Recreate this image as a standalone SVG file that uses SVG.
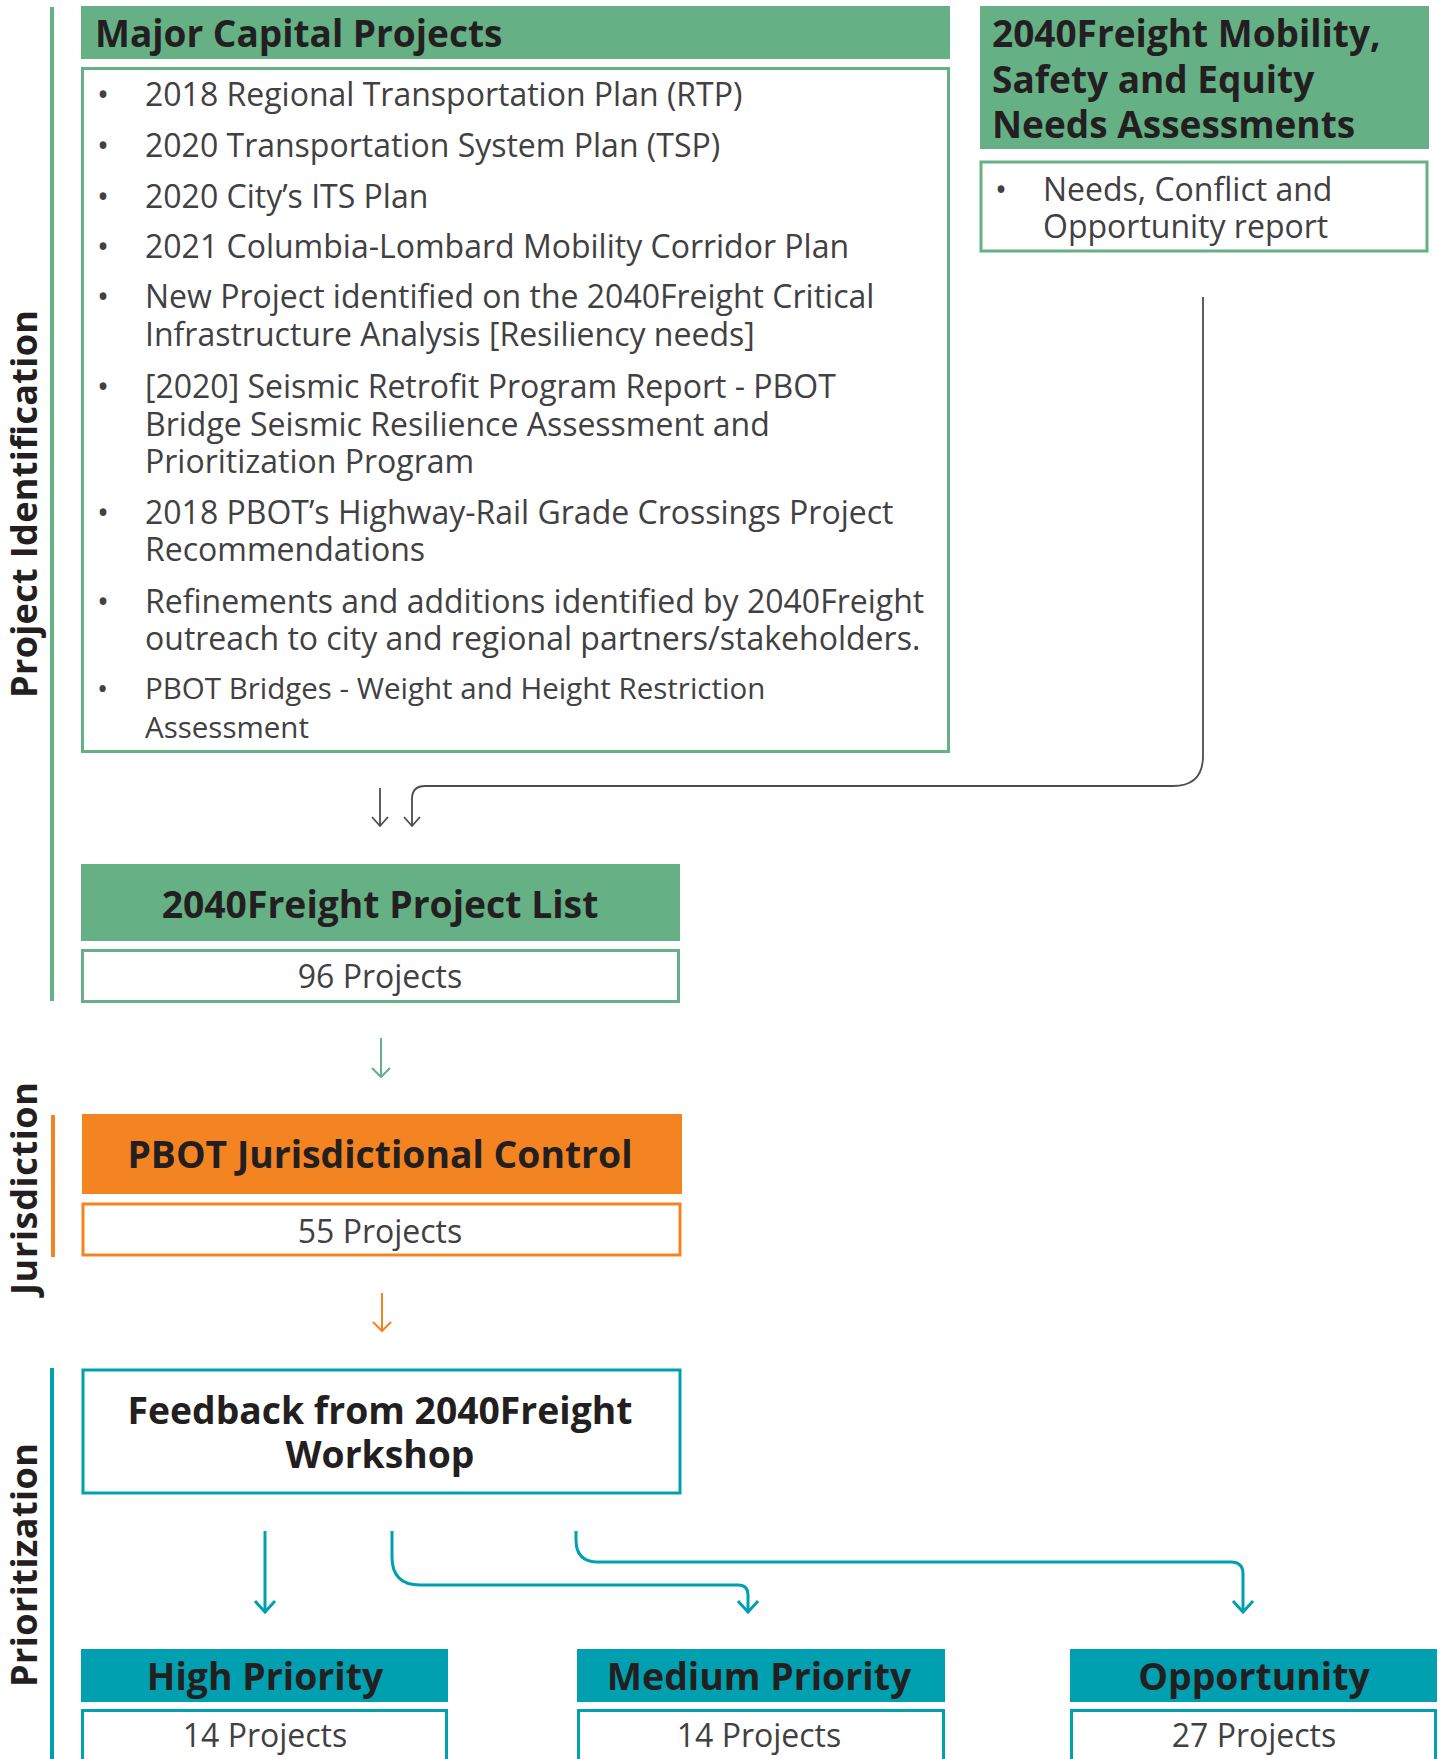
<svg xmlns="http://www.w3.org/2000/svg" width="1440" height="1759" viewBox="0 0 1440 1759">
<style>
.hd{font-family:"Open Sans","Liberation Sans",sans-serif;font-weight:700;fill:#231F20}
.bd{font-family:"Open Sans","Liberation Sans",sans-serif;font-weight:400;fill:#414042}
.side{font-family:"Open Sans","Liberation Sans",sans-serif;font-weight:700;fill:#231F20;font-size:36px}
.gfill{fill:#66B086}
.ofill{fill:#F38421}
.tfill{fill:#00A0B0}
.gbox{fill:#fff;stroke:#66B086;stroke-width:3}
.obox{fill:#fff;stroke:#F38421;stroke-width:3}
.tbox{fill:#fff;stroke:#00A0B0;stroke-width:3}
.c-gray{fill:none;stroke:#4D4D4D;stroke-width:1.8}
.c-green{fill:none;stroke:#66B086;stroke-width:2}
.c-orange{fill:none;stroke:#F38421;stroke-width:2}
.c-teal{fill:none;stroke:#00A0B0;stroke-width:3}
</style>
<defs>
<marker id="ah-gray" viewBox="0 0 20 20" refX="12" refY="10" markerWidth="20" markerHeight="20" markerUnits="userSpaceOnUse" orient="auto"><path d="M3,2 L12,10 L3,18" fill="none" stroke="#4D4D4D" stroke-width="1.8"/></marker>
<marker id="ah-green" viewBox="0 0 20 20" refX="12" refY="10" markerWidth="20" markerHeight="20" markerUnits="userSpaceOnUse" orient="auto"><path d="M3,1 L12,10 L3,19" fill="none" stroke="#66B086" stroke-width="2"/></marker>
<marker id="ah-orange" viewBox="0 0 20 20" refX="12" refY="10" markerWidth="20" markerHeight="20" markerUnits="userSpaceOnUse" orient="auto"><path d="M3,1 L12,10 L3,19" fill="none" stroke="#F38421" stroke-width="2"/></marker>
<marker id="ah-teal" viewBox="0 0 24 24" refX="14" refY="12" markerWidth="24" markerHeight="24" markerUnits="userSpaceOnUse" orient="auto"><path d="M3,2 L14,12 L3,22" fill="none" stroke="#00A0B0" stroke-width="3"/></marker>
</defs>
<rect width="1440" height="1759" fill="#fff"/>

<g id="section-labels">
<rect x="50" y="7" width="4" height="994" class="gfill"/>
<text class="side" transform="translate(37,698) rotate(-90)" textLength="388" lengthAdjust="spacing">Project Identification</text>
<rect x="51" y="1115" width="4" height="142" class="ofill"/>
<text class="side" transform="translate(37,1295) rotate(-90)" textLength="213" lengthAdjust="spacing">Jurisdiction</text>
<rect x="50" y="1368" width="4" height="391" class="tfill"/>
<text class="side" transform="translate(37,1687) rotate(-90)" textLength="244" lengthAdjust="spacing">Prioritization</text>
</g>

<g id="major-capital-projects">
<rect x="81" y="6" width="869" height="53" class="gfill"/>
<text class="hd" x="95" y="47" font-size="37">Major Capital Projects</text>
<rect x="82.5" y="68.5" width="866" height="683" class="gbox" stroke-width="2.5"/>
<g class="bd" font-size="32">
<text x="97" y="106">•</text><text x="145" y="106">2018 Regional Transportation Plan (RTP)</text>
<text x="97" y="157">•</text><text x="145" y="157">2020 Transportation System Plan (TSP)</text>
<text x="97" y="208">•</text><text x="145" y="208">2020 City’s ITS Plan</text>
<text x="97" y="258">•</text><text x="145" y="258">2021 Columbia-Lombard Mobility Corridor Plan</text>
<text x="97" y="308">•</text><text x="145" y="308">New Project identified on the 2040Freight Critical</text>
<text x="145" y="346">Infrastructure Analysis [Resiliency needs]</text>
<text x="97" y="398">•</text><text x="145" y="398">[2020] Seismic Retrofit Program Report - PBOT</text>
<text x="145" y="436">Bridge Seismic Resilience Assessment and</text>
<text x="145" y="473">Prioritization Program</text>
<text x="97" y="524">•</text><text x="145" y="524">2018 PBOT’s Highway-Rail Grade Crossings Project</text>
<text x="145" y="561">Recommendations</text>
<text x="97" y="613">•</text><text x="145" y="613">Refinements and additions identified by 2040Freight</text>
<text x="145" y="650">outreach to city and regional partners/stakeholders.</text>
</g>
<g class="bd" font-size="29.5">
<text x="97" y="699">•</text><text x="145" y="699">PBOT Bridges - Weight and Height Restriction</text>
<text x="145" y="738">Assessment</text>
</g>
</g>

<g id="needs-assessments">
<rect x="980" y="6" width="449" height="143" class="gfill"/>
<text class="hd" font-size="37"><tspan x="992" y="47">2040Freight Mobility,</tspan><tspan x="992" y="93">Safety and Equity</tspan><tspan x="992" y="138">Needs Assessments</tspan></text>
<rect x="981" y="162" width="446" height="89" class="gbox" stroke-width="2.5"/>
<g class="bd" font-size="32">
<text x="995" y="201">•</text>
<text x="1043" y="201">Needs, Conflict and</text>
<text x="1043" y="238">Opportunity report</text>
</g>
</g>

<g id="project-list">
<rect x="81" y="864" width="599" height="77" class="gfill"/>
<text class="hd" x="380" y="918" font-size="37.3" text-anchor="middle">2040Freight Project List</text>
<rect x="82.5" y="950.5" width="596" height="51" class="gbox"/>
<text class="bd" x="380" y="988" font-size="32" text-anchor="middle">96 Projects</text>
</g>

<g id="pbot-jurisdiction">
<rect x="82" y="1114" width="600" height="80" class="ofill"/>
<text class="hd" x="380" y="1168" font-size="37.3" text-anchor="middle">PBOT Jurisdictional Control</text>
<rect x="83" y="1204" width="597" height="51" class="obox"/>
<text class="bd" x="380" y="1243" font-size="32" text-anchor="middle">55 Projects</text>
</g>

<g id="workshop-feedback">
<rect x="83" y="1370" width="597" height="123" class="tbox"/>
<text class="hd" font-size="37.3" text-anchor="middle"><tspan x="380" y="1424">Feedback from 2040Freight</tspan><tspan x="380" y="1468">Workshop</tspan></text>
</g>

<g id="high-priority">
<rect x="81" y="1649" width="367" height="53" class="tfill"/>
<text class="hd" x="265" y="1690" font-size="37.4" text-anchor="middle">High Priority</text>
<rect x="82.5" y="1710.5" width="364" height="60" class="tbox"/>
<text class="bd" x="265" y="1747" font-size="32" text-anchor="middle">14 Projects</text>
</g>

<g id="medium-priority">
<rect x="577" y="1649" width="368" height="53" class="tfill"/>
<text class="hd" x="759" y="1690" font-size="37.4" text-anchor="middle">Medium Priority</text>
<rect x="578.5" y="1710.5" width="365" height="60" class="tbox"/>
<text class="bd" x="759" y="1747" font-size="32" text-anchor="middle">14 Projects</text>
</g>

<g id="opportunity">
<rect x="1070" y="1649" width="367" height="53" class="tfill"/>
<text class="hd" x="1254" y="1690" font-size="37.4" text-anchor="middle">Opportunity</text>
<rect x="1071.5" y="1710.5" width="364" height="60" class="tbox"/>
<text class="bd" x="1254" y="1747" font-size="32" text-anchor="middle">27 Projects</text>
</g>

<g id="connectors">
<path class="c-gray" d="M380,788 L380,826" marker-end="url(#ah-gray)"/>
<path class="c-gray" d="M1203,297 L1203,756 Q1203,786 1173,786 L425,786 Q412,786 412,799 L412,826" marker-end="url(#ah-gray)"/>
<path class="c-green" d="M381,1038 L381,1077" marker-end="url(#ah-green)"/>
<path class="c-orange" d="M382,1293 L382,1331" marker-end="url(#ah-orange)"/>
<path class="c-teal" d="M265,1531 L265,1612" marker-end="url(#ah-teal)"/>
<path class="c-teal" d="M392,1531 L392,1557 Q392,1585 420,1585 L738,1585 Q748,1585 748,1595 L748,1612" marker-end="url(#ah-teal)"/>
<path class="c-teal" d="M576,1531 L576,1540 Q576,1562 598,1562 L1231,1562 Q1243,1562 1243,1574 L1243,1612" marker-end="url(#ah-teal)"/>
</g>
</svg>
